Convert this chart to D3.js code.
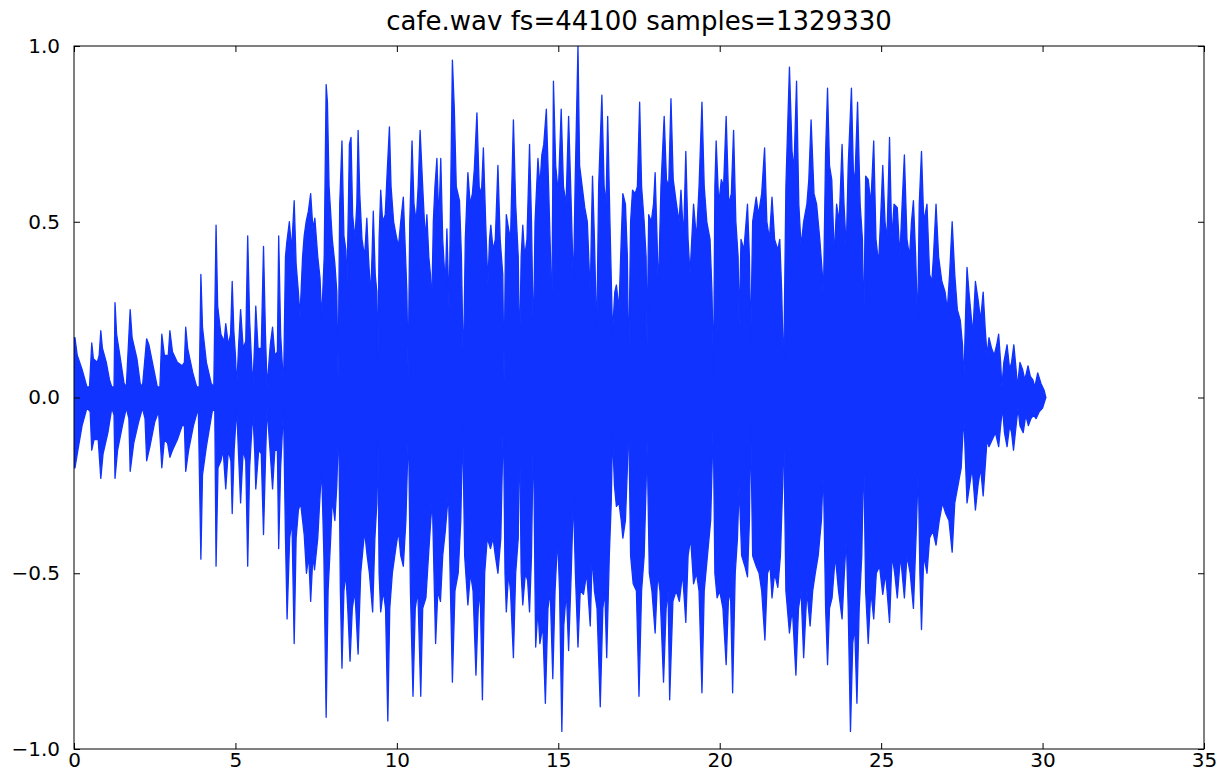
<!DOCTYPE html>
<html>
<head>
<meta charset="utf-8">
<script src="https://cdn.jsdelivr.net/npm/d3@7"></script>
<style>
  body { margin: 0; background: #fff; }
  svg { display: block; font-family: "DejaVu Sans", sans-serif; }
</style>
</head>
<body>
<div id="chart"></div>
<script>
// chart title and axis ticks
const title = "cafe.wav fs=44100 samples=1329330";
const xTicks = [0, 5, 10, 15, 20, 25, 30, 35];
const yTicks = [-1.0, -0.5, 0.0, 0.5, 1.0];

// upper outline of the waveform, [seconds, amplitude]
const upperEnvelope = [
  [0.00,0.17],[0.03,0.17],[0.10,0.12],[0.25,0.08],[0.40,0.03],[0.48,0.03],[0.55,0.155],[0.60,0.11],
  [0.72,0.10],[0.78,0.12],[0.83,0.19],[0.88,0.14],[1.00,0.10],[1.10,0.05],[1.17,0.03],[1.24,0.03],
  [1.27,0.27],[1.32,0.18],[1.42,0.12],[1.55,0.04],[1.62,0.03],[1.74,0.25],[1.80,0.17],[1.95,0.11],
  [2.05,0.04],[2.12,0.03],[2.25,0.167],[2.32,0.15],[2.45,0.09],[2.58,0.03],[2.66,0.03],[2.72,0.18],
  [2.80,0.12],[2.92,0.12],[2.97,0.19],[3.05,0.13],[3.20,0.10],[3.35,0.09],[3.42,0.10],[3.46,0.20],
  [3.52,0.14],[3.68,0.07],[3.80,0.03],[3.88,0.03],[3.93,0.35],[3.98,0.20],[4.10,0.10],[4.25,0.04],
  [4.33,0.03],[4.40,0.49],[4.45,0.26],[4.55,0.18],[4.65,0.16],[4.70,0.21],[4.78,0.15],[4.85,0.18],
  [4.90,0.33],[4.95,0.19],[5.00,0.12],[5.04,0.03],[5.10,0.15],[5.16,0.25],[5.24,0.14],[5.32,0.16],
  [5.38,0.46],[5.44,0.22],[5.50,0.10],[5.54,0.03],[5.60,0.17],[5.63,0.26],[5.70,0.14],[5.80,0.14],
  [5.87,0.43],[5.93,0.18],[5.98,0.03],[6.08,0.15],[6.15,0.20],[6.22,0.12],[6.30,0.13],[6.34,0.46],
  [6.40,0.18],[6.46,0.08],[6.49,0.03],[6.55,0.40],[6.59,0.44],[6.67,0.50],[6.74,0.42],[6.82,0.56],
  [6.88,0.38],[6.95,0.30],[7.00,0.23],[7.08,0.40],[7.13,0.46],[7.19,0.50],[7.26,0.53],[7.33,0.58],
  [7.40,0.48],[7.46,0.51],[7.55,0.40],[7.62,0.34],[7.67,0.22],[7.75,0.40],[7.81,0.89],[7.85,0.84],
  [7.90,0.60],[8.00,0.45],[8.08,0.38],[8.14,0.30],[8.18,0.05],[8.23,0.55],[8.30,0.73],[8.36,0.46],
  [8.42,0.42],[8.45,0.30],[8.50,0.55],[8.53,0.72],[8.58,0.74],[8.63,0.52],[8.70,0.45],[8.76,0.55],
  [8.80,0.76],[8.85,0.58],[8.92,0.45],[9.00,0.40],[9.07,0.51],[9.12,0.40],[9.19,0.29],[9.23,0.40],
  [9.27,0.53],[9.33,0.35],[9.38,0.30],[9.41,0.06],[9.45,0.45],[9.50,0.59],[9.56,0.50],[9.64,0.52],
  [9.70,0.64],[9.77,0.77],[9.82,0.60],[9.90,0.50],[9.98,0.46],[10.05,0.43],[10.12,0.50],[10.20,0.57],
  [10.27,0.40],[10.31,0.30],[10.35,0.06],[10.40,0.50],[10.47,0.73],[10.53,0.55],[10.60,0.50],[10.66,0.60],
  [10.72,0.76],[10.80,0.60],[10.88,0.45],[10.93,0.52],[10.99,0.40],[11.04,0.35],[11.08,0.26],[11.13,0.50],
  [11.18,0.60],[11.24,0.68],[11.30,0.50],[11.36,0.68],[11.42,0.45],[11.50,0.32],[11.55,0.48],[11.62,0.25],
  [11.67,0.60],[11.72,0.96],[11.78,0.82],[11.84,0.60],[11.94,0.56],[12.00,0.40],[12.06,0.07],[12.12,0.45],
  [12.20,0.64],[12.27,0.55],[12.34,0.58],[12.40,0.65],[12.48,0.81],[12.55,0.60],[12.62,0.58],[12.68,0.71],
  [12.75,0.50],[12.82,0.32],[12.87,0.45],[12.91,0.49],[12.98,0.42],[13.05,0.45],[13.13,0.66],[13.20,0.45],
  [13.28,0.35],[13.32,0.05],[13.36,0.40],[13.39,0.52],[13.46,0.48],[13.52,0.45],[13.61,0.79],[13.68,0.55],
  [13.76,0.40],[13.80,0.12],[13.85,0.40],[13.90,0.49],[13.96,0.40],[14.03,0.45],[14.11,0.72],[14.17,0.50],
  [14.23,0.15],[14.28,0.50],[14.37,0.68],[14.43,0.60],[14.49,0.69],[14.55,0.72],[14.63,0.82],[14.70,0.60],
  [14.76,0.40],[14.80,0.21],[14.85,0.90],[14.92,0.66],[15.00,0.58],[15.09,0.82],[15.16,0.60],[15.24,0.55],
  [15.32,0.80],[15.40,0.55],[15.47,0.31],[15.52,0.60],[15.61,1.00],[15.66,0.66],[15.74,0.60],[15.82,0.54],
  [15.90,0.50],[15.99,0.29],[16.03,0.50],[16.06,0.63],[16.12,0.45],[16.19,0.17],[16.25,0.60],[16.35,0.86],
  [16.42,0.60],[16.48,0.55],[16.53,0.80],[16.60,0.50],[16.68,0.18],[16.75,0.30],[16.80,0.32],[16.88,0.25],
  [16.95,0.45],[17.00,0.58],[17.08,0.55],[17.14,0.40],[17.18,0.07],[17.24,0.50],[17.30,0.59],[17.38,0.58],
  [17.45,0.60],[17.52,0.84],[17.58,0.60],[17.66,0.50],[17.72,0.40],[17.75,0.15],[17.80,0.52],[17.88,0.50],
  [17.95,0.55],[18.00,0.64],[18.06,0.45],[18.10,0.30],[18.18,0.60],[18.28,0.80],[18.35,0.62],[18.42,0.60],
  [18.49,0.85],[18.56,0.62],[18.66,0.55],[18.74,0.50],[18.80,0.59],[18.88,0.45],[18.95,0.70],[19.02,0.45],
  [19.08,0.35],[19.19,0.55],[19.28,0.45],[19.36,0.60],[19.45,0.84],[19.52,0.60],[19.60,0.50],[19.70,0.45],
  [19.76,0.30],[19.81,0.06],[19.85,0.60],[19.89,0.73],[19.97,0.55],[20.05,0.62],[20.12,0.60],[20.20,0.80],
  [20.28,0.55],[20.36,0.58],[20.43,0.76],[20.50,0.50],[20.57,0.40],[20.60,0.20],[20.66,0.45],[20.75,0.42],
  [20.86,0.55],[20.92,0.40],[20.96,0.15],[21.02,0.50],[21.13,0.57],[21.20,0.52],[21.30,0.58],[21.39,0.71],
  [21.46,0.50],[21.54,0.45],[21.62,0.57],[21.70,0.45],[21.80,0.42],[21.86,0.45],[21.92,0.30],[21.98,0.06],
  [22.05,0.60],[22.16,0.94],[22.24,0.70],[22.30,0.65],[22.38,0.90],[22.45,0.55],[22.52,0.43],[22.60,0.50],
  [22.70,0.55],[22.76,0.62],[22.83,0.79],[22.92,0.58],[23.00,0.55],[23.10,0.45],[23.18,0.35],[23.21,0.27],
  [23.28,0.70],[23.34,0.88],[23.40,0.66],[23.47,0.62],[23.55,0.40],[23.62,0.55],[23.70,0.50],[23.79,0.72],
  [23.85,0.55],[23.92,0.42],[23.98,0.66],[24.08,0.88],[24.15,0.60],[24.20,0.65],[24.27,0.84],[24.35,0.55],
  [24.42,0.45],[24.46,0.19],[24.52,0.63],[24.60,0.62],[24.68,0.55],[24.77,0.73],[24.84,0.45],[24.92,0.38],
  [24.98,0.50],[25.05,0.66],[25.12,0.50],[25.18,0.45],[25.26,0.74],[25.33,0.45],[25.40,0.55],[25.50,0.54],
  [25.58,0.40],[25.65,0.55],[25.72,0.69],[25.80,0.45],[25.88,0.40],[25.94,0.50],[26.00,0.56],[26.07,0.40],
  [26.13,0.20],[26.18,0.55],[26.25,0.70],[26.32,0.50],[26.42,0.55],[26.50,0.35],[26.57,0.33],[26.62,0.40],
  [26.70,0.55],[26.78,0.40],[26.88,0.33],[26.98,0.30],[27.05,0.25],[27.12,0.35],[27.20,0.50],[27.28,0.35],
  [27.36,0.25],[27.45,0.22],[27.52,0.15],[27.56,0.04],[27.62,0.25],[27.66,0.37],[27.72,0.30],[27.80,0.22],
  [27.84,0.18],[27.92,0.33],[28.00,0.28],[28.08,0.22],[28.16,0.30],[28.22,0.20],[28.28,0.12],[28.34,0.17],
  [28.42,0.14],[28.50,0.12],[28.58,0.15],[28.64,0.18],[28.70,0.10],[28.74,0.03],[28.80,0.10],[28.90,0.15],
  [28.98,0.08],[29.04,0.10],[29.11,0.15],[29.18,0.08],[29.22,0.03],[29.30,0.10],[29.38,0.08],[29.45,0.05],
  [29.55,0.09],[29.62,0.06],[29.70,0.05],[29.76,0.03],[29.85,0.07],[29.95,0.04],[30.05,0.02],[30.10,0.00]
];

// lower outline of the waveform, [seconds, amplitude]
const lowerEnvelope = [
  [0.00,-0.20],[0.03,-0.20],[0.12,-0.15],[0.25,-0.08],[0.40,-0.03],[0.50,-0.04],[0.55,-0.15],[0.62,-0.12],
  [0.75,-0.12],[0.83,-0.23],[0.90,-0.16],[1.05,-0.10],[1.17,-0.03],[1.24,-0.05],[1.27,-0.23],[1.35,-0.15],
  [1.50,-0.08],[1.62,-0.03],[1.70,-0.06],[1.74,-0.21],[1.85,-0.13],[2.00,-0.07],[2.12,-0.03],[2.20,-0.06],
  [2.25,-0.18],[2.35,-0.14],[2.50,-0.07],[2.62,-0.04],[2.72,-0.20],[2.80,-0.12],[2.90,-0.13],[2.97,-0.17],
  [3.05,-0.15],[3.20,-0.12],[3.35,-0.08],[3.42,-0.08],[3.46,-0.21],[3.55,-0.15],[3.70,-0.08],[3.85,-0.03],
  [3.93,-0.46],[3.98,-0.22],[4.10,-0.14],[4.28,-0.04],[4.36,-0.03],[4.40,-0.48],[4.46,-0.20],[4.55,-0.18],
  [4.62,-0.15],[4.70,-0.26],[4.78,-0.15],[4.86,-0.18],[4.90,-0.33],[4.96,-0.15],[5.04,-0.03],[5.10,-0.17],
  [5.16,-0.30],[5.24,-0.15],[5.32,-0.18],[5.38,-0.48],[5.44,-0.20],[5.54,-0.04],[5.60,-0.16],[5.63,-0.26],
  [5.72,-0.15],[5.80,-0.16],[5.87,-0.39],[5.93,-0.18],[5.98,-0.03],[6.08,-0.16],[6.15,-0.26],[6.22,-0.15],
  [6.30,-0.15],[6.34,-0.43],[6.40,-0.20],[6.49,-0.03],[6.55,-0.40],[6.60,-0.63],[6.68,-0.40],[6.75,-0.35],
  [6.82,-0.70],[6.88,-0.40],[6.95,-0.32],[7.02,-0.30],[7.08,-0.35],[7.13,-0.39],[7.20,-0.50],[7.27,-0.45],
  [7.33,-0.58],[7.40,-0.45],[7.45,-0.49],[7.55,-0.40],[7.62,-0.28],[7.67,-0.20],[7.74,-0.45],[7.81,-0.91],
  [7.87,-0.55],[7.95,-0.40],[8.00,-0.29],[8.08,-0.35],[8.14,-0.25],[8.20,-0.07],[8.25,-0.55],[8.30,-0.77],
  [8.36,-0.55],[8.42,-0.50],[8.48,-0.60],[8.55,-0.75],[8.62,-0.60],[8.70,-0.55],[8.80,-0.73],[8.88,-0.50],
  [9.00,-0.38],[9.08,-0.45],[9.15,-0.50],[9.25,-0.61],[9.32,-0.40],[9.38,-0.30],[9.41,-0.07],[9.45,-0.50],
  [9.50,-0.61],[9.58,-0.55],[9.65,-0.60],[9.72,-0.92],[9.78,-0.60],[9.86,-0.50],[9.98,-0.42],[10.05,-0.38],
  [10.12,-0.45],[10.20,-0.48],[10.28,-0.35],[10.36,-0.08],[10.42,-0.55],[10.50,-0.85],[10.57,-0.60],[10.65,-0.55],
  [10.74,-0.85],[10.80,-0.60],[10.90,-0.57],[10.98,-0.45],[11.05,-0.35],[11.10,-0.29],[11.15,-0.50],[11.20,-0.70],
  [11.27,-0.55],[11.35,-0.58],[11.42,-0.45],[11.50,-0.38],[11.60,-0.27],[11.66,-0.55],[11.72,-0.81],[11.80,-0.55],
  [11.90,-0.50],[11.98,-0.35],[12.04,-0.08],[12.10,-0.45],[12.20,-0.59],[12.28,-0.50],[12.36,-0.55],[12.45,-0.79],
  [12.52,-0.60],[12.58,-0.55],[12.65,-0.86],[12.72,-0.50],[12.80,-0.40],[12.90,-0.43],[12.98,-0.40],[13.05,-0.45],
  [13.13,-0.50],[13.22,-0.40],[13.30,-0.05],[13.35,-0.50],[13.39,-0.61],[13.46,-0.50],[13.52,-0.55],[13.61,-0.74],
  [13.68,-0.50],[13.76,-0.40],[13.80,-0.07],[13.85,-0.50],[13.90,-0.59],[13.98,-0.50],[14.05,-0.52],[14.11,-0.61],
  [14.17,-0.45],[14.23,-0.08],[14.28,-0.55],[14.30,-0.71],[14.37,-0.60],[14.43,-0.70],[14.52,-0.65],[14.60,-0.87],
  [14.68,-0.60],[14.75,-0.55],[14.83,-0.80],[14.90,-0.55],[14.98,-0.40],[15.04,-0.55],[15.11,-0.95],[15.17,-0.65],
  [15.25,-0.55],[15.32,-0.72],[15.40,-0.50],[15.47,-0.28],[15.53,-0.50],[15.61,-0.71],[15.68,-0.55],[15.78,-0.56],
  [15.88,-0.50],[15.99,-0.65],[16.05,-0.45],[16.12,-0.55],[16.20,-0.60],[16.30,-0.88],[16.38,-0.60],[16.44,-0.55],
  [16.50,-0.74],[16.58,-0.45],[16.64,-0.30],[16.68,-0.10],[16.74,-0.25],[16.80,-0.31],[16.88,-0.30],[16.95,-0.35],
  [17.00,-0.40],[17.08,-0.35],[17.14,-0.20],[17.18,-0.05],[17.24,-0.45],[17.32,-0.53],[17.42,-0.55],[17.50,-0.85],
  [17.58,-0.55],[17.66,-0.45],[17.72,-0.25],[17.75,-0.12],[17.82,-0.50],[17.90,-0.55],[18.00,-0.67],[18.08,-0.50],
  [18.15,-0.55],[18.26,-0.81],[18.34,-0.60],[18.40,-0.55],[18.45,-0.86],[18.55,-0.58],[18.65,-0.55],[18.75,-0.58],
  [18.85,-0.50],[18.95,-0.64],[19.02,-0.45],[19.10,-0.40],[19.19,-0.53],[19.28,-0.50],[19.36,-0.55],[19.45,-0.84],
  [19.52,-0.55],[19.62,-0.45],[19.72,-0.35],[19.80,-0.07],[19.85,-0.50],[19.92,-0.57],[20.00,-0.55],[20.10,-0.60],
  [20.20,-0.76],[20.28,-0.55],[20.34,-0.58],[20.40,-0.84],[20.48,-0.50],[20.55,-0.40],[20.60,-0.25],[20.68,-0.45],
  [20.78,-0.48],[20.86,-0.51],[20.92,-0.35],[20.96,-0.07],[21.02,-0.45],[21.13,-0.48],[21.22,-0.50],[21.30,-0.55],
  [21.40,-0.69],[21.48,-0.50],[21.56,-0.48],[21.62,-0.57],[21.70,-0.50],[21.80,-0.54],[21.88,-0.45],[21.95,-0.25],
  [21.98,-0.06],[22.05,-0.55],[22.16,-0.67],[22.25,-0.60],[22.36,-0.79],[22.44,-0.60],[22.52,-0.55],[22.60,-0.74],
  [22.70,-0.55],[22.80,-0.65],[22.88,-0.55],[22.96,-0.50],[23.05,-0.45],[23.15,-0.35],[23.21,-0.20],[23.28,-0.60],
  [23.34,-0.76],[23.40,-0.60],[23.48,-0.57],[23.58,-0.45],[23.68,-0.55],[23.79,-0.63],[23.86,-0.50],[23.92,-0.40],
  [23.98,-0.60],[24.05,-0.95],[24.12,-0.70],[24.18,-0.65],[24.25,-0.87],[24.32,-0.60],[24.40,-0.45],[24.46,-0.15],
  [24.52,-0.55],[24.60,-0.70],[24.68,-0.55],[24.77,-0.63],[24.85,-0.50],[24.95,-0.48],[25.05,-0.56],[25.14,-0.50],
  [25.26,-0.64],[25.34,-0.45],[25.42,-0.50],[25.50,-0.57],[25.60,-0.45],[25.72,-0.57],[25.80,-0.45],[25.90,-0.50],
  [26.00,-0.60],[26.08,-0.40],[26.15,-0.20],[26.20,-0.50],[26.25,-0.66],[26.32,-0.45],[26.42,-0.50],[26.50,-0.40],
  [26.60,-0.38],[26.70,-0.42],[26.80,-0.35],[26.90,-0.30],[27.00,-0.33],[27.10,-0.35],[27.20,-0.44],[27.28,-0.30],
  [27.38,-0.25],[27.48,-0.20],[27.56,-0.05],[27.62,-0.20],[27.66,-0.30],[27.74,-0.25],[27.82,-0.20],[27.92,-0.32],
  [28.00,-0.25],[28.08,-0.20],[28.16,-0.28],[28.22,-0.20],[28.28,-0.12],[28.34,-0.14],[28.44,-0.12],[28.54,-0.10],
  [28.64,-0.14],[28.70,-0.08],[28.76,-0.03],[28.82,-0.10],[28.90,-0.14],[28.98,-0.08],[29.04,-0.10],[29.10,-0.15],
  [29.18,-0.08],[29.24,-0.03],[29.30,-0.08],[29.40,-0.10],[29.48,-0.05],[29.56,-0.08],[29.64,-0.06],[29.72,-0.05],
  [29.80,-0.06],[29.90,-0.04],[30.00,-0.03],[30.10,0.00]
];

const W = 1217, H = 775;
const margin = {top: 46, right: 13, bottom: 26, left: 74};
const width = W - margin.left - margin.right;
const height = H - margin.top - margin.bottom;
const blue = "#1133ff";

const svg = d3.select("#chart").append("svg")
    .attr("width", W)
    .attr("height", H);

const x = d3.scaleLinear().domain([0, 35]).range([0, width]);
const y = d3.scaleLinear().domain([-1, 1]).range([height, 0]);

const g = svg.append("g")
    .attr("transform", "translate(" + margin.left + "," + margin.top + ")");

g.append("clipPath").attr("id", "clip")
  .append("rect").attr("width", width).attr("height", height);

// waveform: one area above zero and one below
const area = d3.area()
    .x(d => x(d[0]))
    .y0(y(0))
    .y1(d => y(d[1]));

const wave = g.append("g").attr("clip-path", "url(#clip)");
[upperEnvelope, lowerEnvelope].forEach(env => {
  wave.append("path")
    .datum(env)
    .attr("d", area)
    .attr("fill", blue)
    .attr("stroke", blue)
    .attr("stroke-width", 1.3)
    .attr("stroke-linejoin", "round");
});

// axes, ticks pointing inwards on all four sides
const fmtX = d3.format("d");
const fmtY = d3.format(".1f");
const tickLen = 6;

g.append("g")
    .attr("transform", "translate(0," + height + ")")
    .call(d3.axisBottom(x).tickValues(xTicks).tickFormat(fmtX).tickSizeInner(-tickLen).tickSizeOuter(0).tickPadding(4));
g.append("g")
    .call(d3.axisTop(x).tickValues(xTicks).tickFormat("").tickSizeInner(-tickLen).tickSizeOuter(0));
g.append("g")
    .call(d3.axisLeft(y).tickValues(yTicks).tickFormat(fmtY).tickSizeInner(-tickLen).tickSizeOuter(0).tickPadding(14));
g.append("g")
    .attr("transform", "translate(" + width + ",0)")
    .call(d3.axisRight(y).tickValues(yTicks).tickFormat("").tickSizeInner(-tickLen).tickSizeOuter(0));

g.selectAll(".domain").remove();
g.selectAll(".tick line").attr("stroke", "#000").attr("stroke-width", 1);
g.selectAll(".tick text")
    .attr("fill", "#000")
    .style("font-size", "20px")
    .style("font-family", "DejaVu Sans");

g.append("rect")
    .attr("width", width)
    .attr("height", height)
    .attr("fill", "none")
    .attr("stroke", "#000")
    .attr("stroke-width", 1);

svg.append("text")
    .attr("x", margin.left + width / 2)
    .attr("y", 30)
    .attr("text-anchor", "middle")
    .style("font-size", "26px")
    .style("font-family", "DejaVu Sans")
    .attr("fill", "#000")
    .text(title);
</script>
</body>
</html>
